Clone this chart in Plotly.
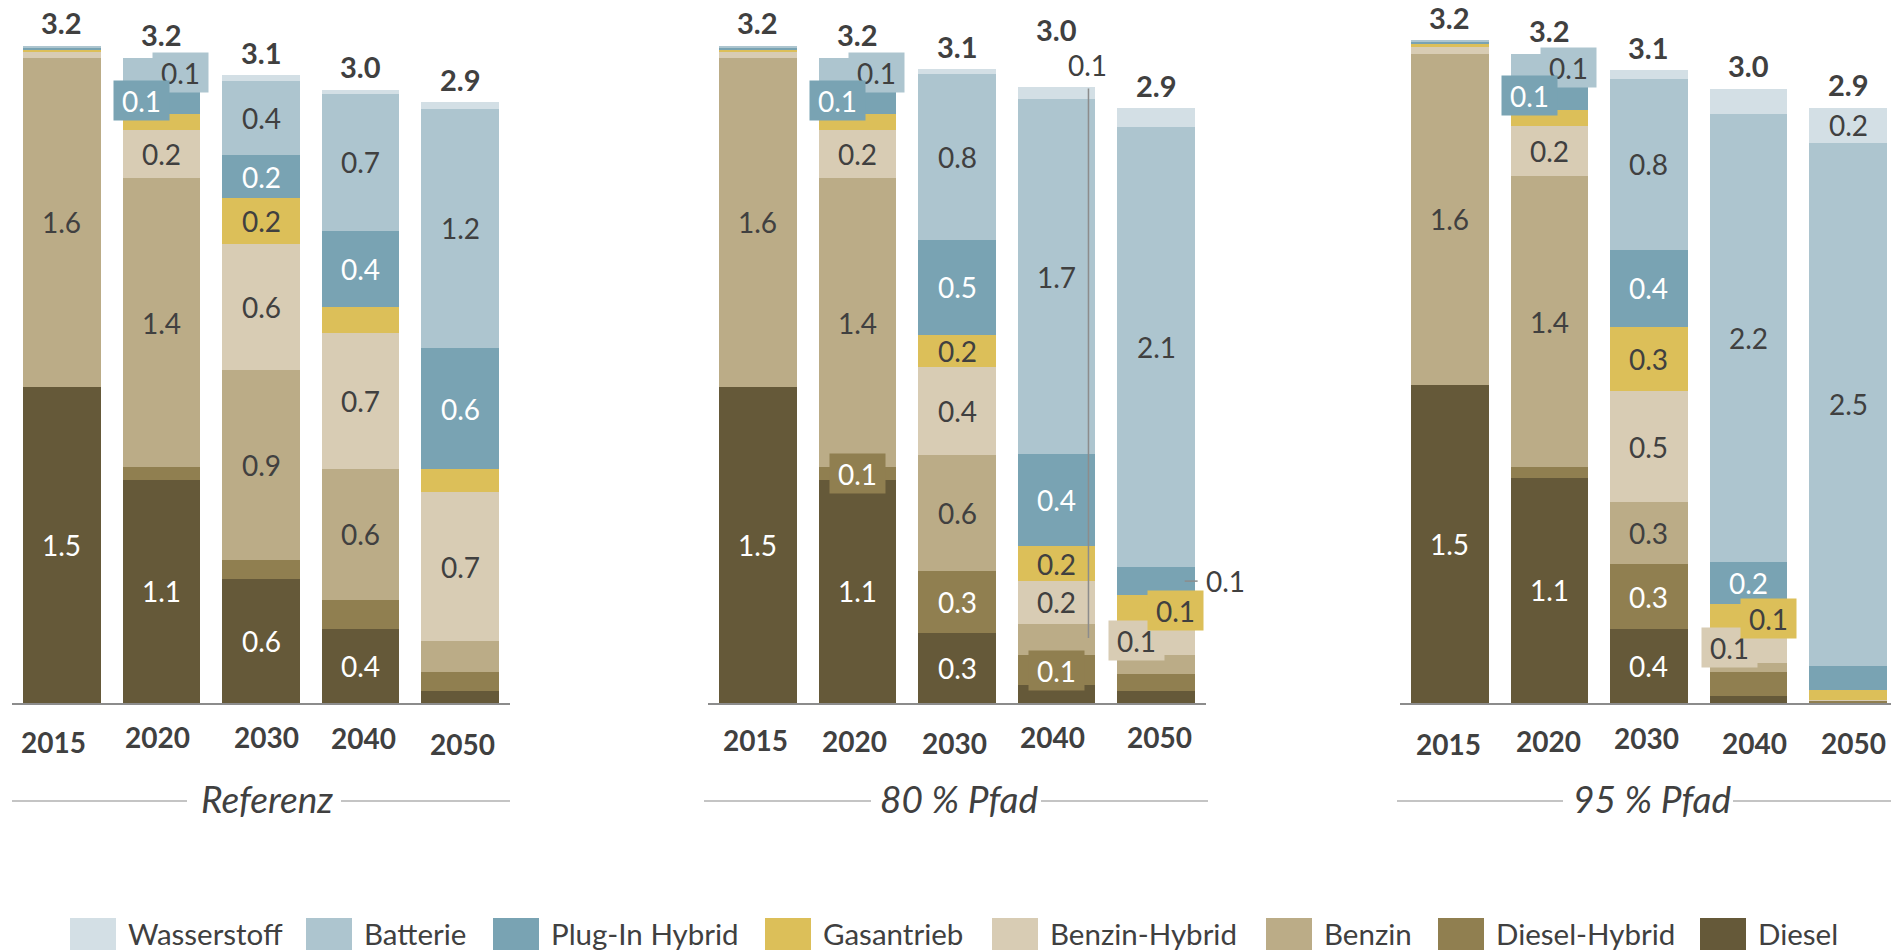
import plotly.graph_objects as go

# ---------------- data ----------------
years = ["2015", "2020", "2030", "2040", "2050"]
scenarios = ["Referenz", "80 % Pfad", "95 % Pfad"]

# stacked from bottom to top
series_names = ["Diesel", "Diesel-Hybrid", "Benzin", "Benzin-Hybrid",
                "Gasantrieb", "Plug-In Hybrid", "Batterie", "Wasserstoff"]

diesel = {"Referenz": [1.53, 1.08, 0.60, 0.36, 0.06],
          "80 % Pfad": [1.53, 1.08, 0.34, 0.087, 0.058],
          "95 % Pfad": [1.54, 1.09, 0.36, 0.035, 0.0]}
diesel_hybrid = {"Referenz": [0.0, 0.06, 0.09, 0.14, 0.09],
                 "80 % Pfad": [0.0, 0.06, 0.30, 0.145, 0.082],
                 "95 % Pfad": [0.0, 0.05, 0.31, 0.115, 0.01]}
benzin = {"Referenz": [1.59, 1.40, 0.92, 0.63, 0.15],
          "80 % Pfad": [1.59, 1.40, 0.56, 0.15, 0.092],
          "95 % Pfad": [1.60, 1.41, 0.30, 0.045, 0.0]}
benzin_hybrid = {"Referenz": [0.03, 0.23, 0.61, 0.66, 0.72],
                 "80 % Pfad": [0.03, 0.23, 0.425, 0.21, 0.145],
                 "95 % Pfad": [0.035, 0.24, 0.54, 0.145, 0.004]}
gasantrieb = {"Referenz": [0.008, 0.08, 0.22, 0.125, 0.11],
              "80 % Pfad": [0.008, 0.08, 0.155, 0.165, 0.145],
              "95 % Pfad": [0.01, 0.08, 0.31, 0.14, 0.05]}
plugin_hybrid = {"Referenz": [0.01, 0.13, 0.21, 0.37, 0.585],
                 "80 % Pfad": [0.01, 0.13, 0.46, 0.445, 0.135],
                 "95 % Pfad": [0.01, 0.14, 0.37, 0.20, 0.115]}
batterie = {"Referenz": [0.01, 0.14, 0.36, 0.66, 1.16],
            "80 % Pfad": [0.01, 0.14, 0.80, 1.72, 2.13],
            "95 % Pfad": [0.01, 0.13, 0.83, 2.17, 2.53]}
wasserstoff = {"Referenz": [0.0, 0.0, 0.025, 0.02, 0.03],
               "80 % Pfad": [0.0, 0.0, 0.025, 0.055, 0.09],
               "95 % Pfad": [0.0, 0.0, 0.04, 0.12, 0.17]}

totals_label = {"Referenz": [3.2, 3.2, 3.1, 3.0, 2.9],
                "80 % Pfad": [3.2, 3.2, 3.1, 3.0, 2.9],
                "95 % Pfad": [3.2, 3.2, 3.1, 3.0, 2.9]}

data = {"Diesel": diesel, "Diesel-Hybrid": diesel_hybrid, "Benzin": benzin,
        "Benzin-Hybrid": benzin_hybrid, "Gasantrieb": gasantrieb,
        "Plug-In Hybrid": plugin_hybrid, "Batterie": batterie,
        "Wasserstoff": wasserstoff}

# ---------------- style ----------------
colors = {"Wasserstoff": "#D3DFE5", "Batterie": "#ADC5CF", "Plug-In Hybrid": "#79A3B3",
          "Gasantrieb": "#DCBF59", "Benzin-Hybrid": "#D8CCB4", "Benzin": "#BBAC87",
          "Diesel-Hybrid": "#907F50", "Diesel": "#655939"}
white_text = {"Diesel", "Diesel-Hybrid", "Plug-In Hybrid"}
DARK = "#404040"
FONT = "Lato"
W, H = 1891, 950
BASE = 703           # page y of the baseline
YMAX = 3.40

axes = [("x", "y"), ("x2", "y2"), ("x3", "y3")]
x_dom = [(12, 510), (708, 1206), (1400, 1891)]
x_rng = [(-0.5, 4.5), (-0.5, 4.5), (-0.5, 4.43)]

# segment labels: (scenario index, year index, series, x shift px, boxed)
seg_labels = [
    (0, 0, "Diesel", 0, False), (0, 0, "Benzin", 0, False),
    (0, 1, "Diesel", 0, False), (0, 1, "Benzin", 0, False), (0, 1, "Benzin-Hybrid", 0, False),
    (0, 1, "Batterie", 19, True), (0, 1, "Plug-In Hybrid", -20, True),
    (0, 2, "Diesel", 0, False), (0, 2, "Benzin", 0, False), (0, 2, "Benzin-Hybrid", 0, False),
    (0, 2, "Gasantrieb", 0, False), (0, 2, "Plug-In Hybrid", 0, False), (0, 2, "Batterie", 0, False),
    (0, 3, "Diesel", 0, False), (0, 3, "Benzin", 0, False), (0, 3, "Benzin-Hybrid", 0, False),
    (0, 3, "Plug-In Hybrid", 0, False), (0, 3, "Batterie", 0, False),
    (0, 4, "Benzin-Hybrid", 0, False), (0, 4, "Plug-In Hybrid", 0, False), (0, 4, "Batterie", 0, False),

    (1, 0, "Diesel", 0, False), (1, 0, "Benzin", 0, False),
    (1, 1, "Diesel", 0, False), (1, 1, "Diesel-Hybrid", 0, True), (1, 1, "Benzin", 0, False),
    (1, 1, "Benzin-Hybrid", 0, False),
    (1, 1, "Batterie", 19, True), (1, 1, "Plug-In Hybrid", -20, True),
    (1, 2, "Diesel", 0, False), (1, 2, "Diesel-Hybrid", 0, False), (1, 2, "Benzin", 0, False),
    (1, 2, "Benzin-Hybrid", 0, False), (1, 2, "Gasantrieb", 0, False),
    (1, 2, "Plug-In Hybrid", 0, False), (1, 2, "Batterie", 0, False),
    (1, 3, "Diesel-Hybrid", 0, True), (1, 3, "Benzin-Hybrid", 0, False), (1, 3, "Gasantrieb", 0, False),
    (1, 3, "Plug-In Hybrid", 0, False), (1, 3, "Batterie", 0, False),
    (1, 4, "Benzin-Hybrid", -20, True), (1, 4, "Gasantrieb", 19, True), (1, 4, "Batterie", 0, False),

    (2, 0, "Diesel", 0, False), (2, 0, "Benzin", 0, False),
    (2, 1, "Diesel", 0, False), (2, 1, "Benzin", 0, False), (2, 1, "Benzin-Hybrid", 0, False),
    (2, 1, "Batterie", 19.5, True), (2, 1, "Plug-In Hybrid", -19.5, True),
    (2, 2, "Diesel", 0, False), (2, 2, "Diesel-Hybrid", 0, False), (2, 2, "Benzin", 0, False),
    (2, 2, "Benzin-Hybrid", 0, False), (2, 2, "Gasantrieb", 0, False),
    (2, 2, "Plug-In Hybrid", 0, False), (2, 2, "Batterie", 0, False),
    (2, 3, "Plug-In Hybrid", 0, False), (2, 3, "Benzin-Hybrid", -19.5, True),
    (2, 3, "Gasantrieb", 19.5, True), (2, 3, "Batterie", 0, False),
    (2, 4, "Batterie", 0, False), (2, 4, "Wasserstoff", 0, False),
]

# year label offsets (dx, page y of centre) per scenario
year_pos = [[(-8, 742), (-3.5, 737), (5, 737), (3, 738), (2.5, 744)],
            [(-2.4, 740), (-2.6, 741), (-2.2, 743), (-4.3, 737), (2.8, 737)],
            [(-1, 744), (-1, 741), (-2, 738), (6, 743), (5, 743)]]
# extra lift of total labels (px)
total_shift = [[23] * 5, [23, 23, 23, 58, 23], [23] * 5]

fig = go.Figure()
xs = list(range(len(years)))

for si, sc in enumerate(scenarios):
    xa, ya = axes[si]
    for name in series_names:
        fig.add_trace(go.Bar(
            x=xs, y=data[name][sc], name=name, width=0.78,
            marker=dict(color=colors[name], line=dict(width=0)),
            xaxis=xa, yaxis=ya, showlegend=False, hoverinfo="skip"))

def seg_center(sc, yi, name):
    bottom = 0.0
    for n in series_names:
        v = data[n][sc][yi]
        if n == name:
            return bottom + v / 2.0, v
        bottom += v

annotations = []
shapes = []

for (si, yi, name, dx, boxed) in seg_labels:
    sc = scenarios[si]
    xa, ya = axes[si]
    yc, v = seg_center(sc, yi, name)
    col = "white" if name in white_text else DARK
    a = dict(x=yi, y=yc, xref=xa, yref=ya, text=f"{v:.1f}", showarrow=False,
             xshift=dx, font=dict(family=FONT, size=28, color=col),
             xanchor="center", yanchor="middle")
    if boxed:
        a.update(bgcolor=colors[name], width=55, height=39, borderpad=0)
    annotations.append(a)

# totals and year labels
for si, sc in enumerate(scenarios):
    xa, ya = axes[si]
    for yi in xs:
        tot = sum(data[n][sc][yi] for n in series_names)
        annotations.append(dict(
            x=yi, y=tot, xref=xa, yref=ya, text=f"<b>{totals_label[sc][yi]:.1f}</b>",
            showarrow=False, yshift=total_shift[si][yi], xanchor="center", yanchor="middle",
            font=dict(family=FONT, size=29, color=DARK)))
        dx, pyc = year_pos[si][yi]
        annotations.append(dict(
            x=yi, y=0, xref=xa, yref=ya, text=f"<b>{years[yi]}</b>", showarrow=False,
            xshift=dx, yshift=BASE - pyc, xanchor="center", yanchor="middle",
            font=dict(family=FONT, size=28, color=DARK)))

# callouts in the 80 % path
sc = scenarios[1]
tot40 = sum(data[n][sc][3] for n in series_names)
h2_val = data["Wasserstoff"][sc][3]
annotations.append(dict(x=3.31, y=tot40, xref="x2", yref="y2", text=f"{h2_val:.1f}",
                        showarrow=False, yshift=22, xanchor="center", yanchor="middle",
                        font=dict(family=FONT, size=28, color=DARK)))
shapes.append(dict(type="line", xref="x2", yref="y2", x0=3.32, x1=3.32,
                   y0=0.314, y1=tot40 - 0.005, line=dict(color="#8c8c8c", width=1.5)))
yc, v = seg_center(sc, 4, "Plug-In Hybrid")
shapes.append(dict(type="line", xref="x2", yref="y2", x0=4.286, x1=4.416, y0=yc, y1=yc,
                   line=dict(color="#8c8c8c", width=1.5)))
annotations.append(dict(x=4.476, y=yc, xref="x2", yref="y2", text=f"{v:.1f}",
                        showarrow=False, xanchor="left", yanchor="middle",
                        font=dict(family=FONT, size=28, color=DARK)))

# page-coordinate helpers for decorations
def px(xp):
    return xp / W

def py(yp):
    return (BASE - yp) / BASE

# panel titles with side rules
titles = [("Referenz", 267, (12, 187), (341, 510)),
          ("80 % Pfad", 959, (704, 871), (1041, 1208)),
          ("95 % Pfad", 1652, (1397, 1563), (1733, 1891))]
for text, cx, l1, l2 in titles:
    annotations.append(dict(x=px(cx), y=py(798), xref="paper", yref="paper",
                            text=f"<i>{text}</i>", showarrow=False,
                            xanchor="center", yanchor="middle",
                            font=dict(family=FONT, size=37, color=DARK)))
    for (a, b) in (l1, l2):
        shapes.append(dict(type="line", xref="paper", yref="paper", x0=px(a), x1=px(b),
                           y0=py(801), y1=py(801), line=dict(color="#b0b0b0", width=1.5)))

# custom legend
legend_order = ["Wasserstoff", "Batterie", "Plug-In Hybrid", "Gasantrieb",
                "Benzin-Hybrid", "Benzin", "Diesel-Hybrid", "Diesel"]
sw_left = [70, 306, 493, 765, 992, 1266, 1438, 1700]
for name, x0 in zip(legend_order, sw_left):
    shapes.append(dict(type="rect", xref="paper", yref="paper", x0=px(x0), x1=px(x0 + 46),
                       y0=py(918), y1=py(964), fillcolor=colors[name], line=dict(width=0)))
    annotations.append(dict(x=px(x0 + 56), y=py(934), xref="paper", yref="paper",
                            text=name, showarrow=False, xanchor="left", yanchor="middle",
                            font=dict(family=FONT, size=29.5, color=DARK)))

layout = dict(
    width=W, height=H, barmode="stack", plot_bgcolor="white", paper_bgcolor="white",
    margin=dict(l=0, r=0, t=0, b=H - BASE), showlegend=False,
    annotations=annotations, shapes=shapes, font=dict(family=FONT),
)
for si in range(3):
    xk = "xaxis" if si == 0 else f"xaxis{si + 1}"
    yk = "yaxis" if si == 0 else f"yaxis{si + 1}"
    xa, ya = axes[si]
    layout[xk] = dict(domain=[x_dom[si][0] / W, x_dom[si][1] / W], range=list(x_rng[si]),
                      anchor=ya, showgrid=False, zeroline=False, showticklabels=False,
                      ticks="", showline=True, linecolor="#8c8c8c", linewidth=2)
    layout[yk] = dict(domain=[0, 1], range=[0, YMAX], anchor=xa, visible=False,
                      showgrid=False, zeroline=False)
fig.update_layout(**layout)

fig.write_html("out.html")
